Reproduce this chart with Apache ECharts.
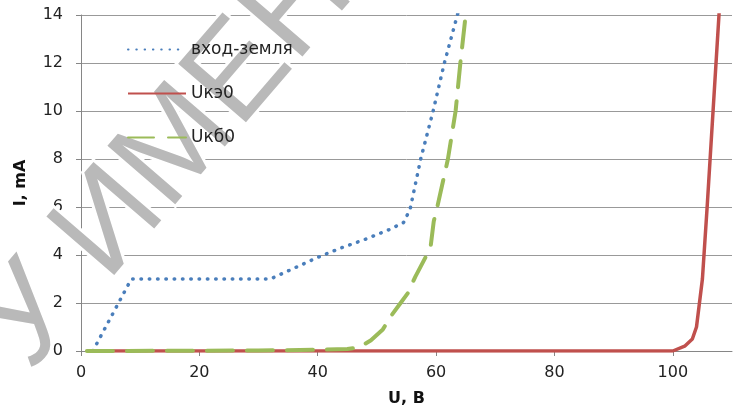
<!DOCTYPE html>
<html>
<head>
<meta charset="utf-8">
<script src="https://cdn.jsdelivr.net/npm/echarts@6/dist/echarts.min.js"></script>
<style>
  html, body { margin: 0; padding: 0; background: #fff; }
  #chart { width: 736px; height: 412px; }
</style>
</head>
<body>
<div id="chart"></div>
<script>
// вход-земля
var uVhod = [2, 8.5, 32, 36, 40, 44, 48, 52, 54.5, 55.6, 57.4, 59.5, 61.4, 63.6, 65];
var iVhod = [0, 3, 3, 3.45, 3.9, 4.3, 4.65, 5.05, 5.35, 5.9, 8, 10, 12, 14, 15.3];
// Uкэ0
var uKe = [1, 100, 102, 103.3, 104, 105, 105.8, 106.8, 107.8, 108.2];
var iKe = [0, 0, 0.2, 0.5, 1, 3, 6, 10, 14, 15.5];
// Uкб0
var uKb = [1, 30, 40, 45, 47, 49, 51, 52.5, 54, 55.2, 56.5, 58.2, 59.1, 59.6, 60.2, 62, 63.3, 64.1, 65, 65.6];
var iKb = [0, 0.02, 0.05, 0.08, 0.15, 0.45, 0.9, 1.5, 2, 2.4, 3.1, 3.9, 4.4, 5.4, 6, 8, 10, 12, 14, 15.5];

var seriesNames = ['вход-земля', 'Uкэ0', 'Uкб0'];
var xTicks = { min: 0, max: 110, step: 20 };
var yTicks = { min: 0, max: 14, step: 2 };

function pairs(xs, ys) {
  var out = [];
  for (var i = 0; i < xs.length; i++) out.push([xs[i], ys[i]]);
  return out;
}

var chart = echarts.init(document.getElementById('chart'));
var font = 'DejaVu Sans';

var option = {
  animation: false,
  textStyle: { fontFamily: font },
  grid: { left: 81, right: 4, top: 15, bottom: 61 },
  legend: {
    orient: 'vertical',
    left: 122,
    top: 36,
    z: 10,
    itemWidth: 58,
    itemHeight: 14,
    itemGap: 27,
    itemStyle: { opacity: 0 },
    textStyle: { fontFamily: font, fontSize: 17, color: '#222' },
    data: seriesNames
  },
  xAxis: {
    type: 'value',
    min: xTicks.min,
    max: xTicks.max,
    interval: xTicks.step,
    name: 'U, B',
    nameLocation: 'middle',
    nameGap: 40,
    nameTextStyle: { fontFamily: font, fontSize: 16, fontWeight: 'bold', color: '#111' },
    axisLine: { lineStyle: { color: '#868686' } },
    axisTick: { show: true, length: 5, lineStyle: { color: '#868686' } },
    axisLabel: { fontFamily: font, fontSize: 16, color: '#222', margin: 14, showMaxLabel: false },
    splitLine: { show: false }
  },
  yAxis: {
    type: 'value',
    min: yTicks.min,
    max: yTicks.max,
    interval: yTicks.step,
    name: 'I, mA',
    nameLocation: 'middle',
    nameGap: 52,
    nameTextStyle: { fontFamily: font, fontSize: 16, fontWeight: 'bold', color: '#111' },
    axisLine: { show: true, lineStyle: { color: '#868686' } },
    axisTick: { show: true, length: 5, lineStyle: { color: '#868686' } },
    axisLabel: { fontFamily: font, fontSize: 16, color: '#222', margin: 18 },
    splitLine: { lineStyle: { color: '#999', width: 1 } }
  },
  series: [{
    name: seriesNames[0],
    type: 'line',
    symbol: 'none',
    data: pairs(uVhod, iVhod),
    z: 3,
    lineStyle: { color: '#4a7ebb', width: 3.5, type: [0.5, 7.8], cap: 'round' },
    itemStyle: { color: '#4a7ebb' }
  }, {
    name: seriesNames[1],
    type: 'line',
    symbol: 'none',
    data: pairs(uKe, iKe),
    z: 2,
    lineStyle: { color: '#c0504d', width: 3.5 },
    itemStyle: { color: '#c0504d' }
  }, {
    name: seriesNames[2],
    type: 'line',
    symbol: 'none',
    data: pairs(uKb, iKb),
    z: 4,
    lineStyle: { color: '#9bbb59', width: 4, type: [26, 14], cap: 'round' },
    itemStyle: { color: '#9bbb59' }
  }],
  // водяной знак
  graphic: [{
    type: 'text',
    x: 52,
    y: 392,
    rotation: 0.86,
    z: 5,
    silent: true,
    style: {
      text: 'У ИМЕНИ Ч',
      font: '130px "Liberation Sans"',
      fill: '#b9b9b9',
      stroke: '#fff',
      lineWidth: 6,
      align: 'left',
      verticalAlign: 'bottom'
    }
  }]
};

chart.setOption(option);
</script>
</body>
</html>
